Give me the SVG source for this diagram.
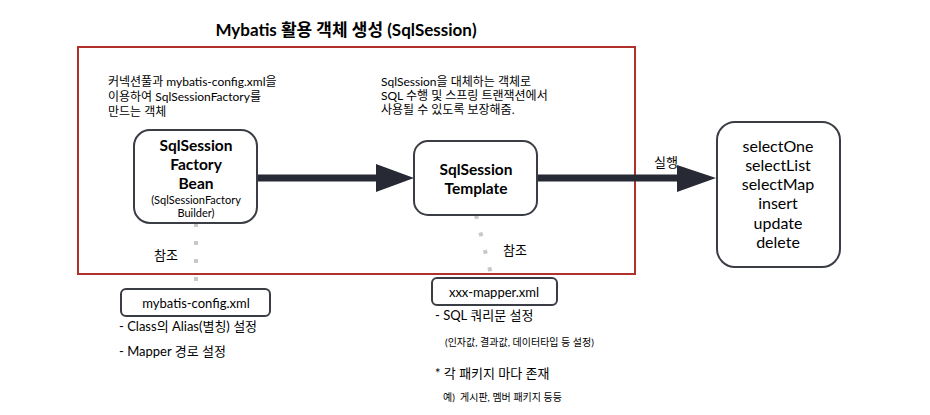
<svg xmlns="http://www.w3.org/2000/svg" width="930" height="415" viewBox="0 0 930 415">
<defs>
<style>
text{font-family:Lato,"Noto Sans CJK KR",sans-serif;fill:#000;}
.title{font-size:17px;font-weight:bold;}
.note{font-size:12px;}
.b{font-size:15.5px;font-weight:bold;text-anchor:middle;}
.sb{font-size:11px;text-anchor:middle;}
.m{font-size:16px;text-anchor:middle;}
.lab{font-size:13px;}
.sm{font-size:10px;}
.box{fill:#fff;stroke:#3b3d45;stroke-width:2;}
.main{stroke:#272a35;stroke-width:7;fill:none;}
.dot{stroke:#c8c8c8;stroke-width:4;stroke-dasharray:4 14;fill:none;}
</style>
</defs>
<rect width="930" height="415" fill="#fff"/>
<text class="title" x="346" y="36" text-anchor="middle">Mybatis 활용 객체 생성 (SqlSession)</text>
<rect x="78" y="47" width="557" height="227" fill="none" stroke="#b0302a" stroke-width="2"/>
<g id="connectors">
<line class="main" x1="257" y1="178" x2="378" y2="178"/>
<polygon points="376,164 414,178 376,192" fill="#272a35"/>
<line class="main" x1="537" y1="178" x2="679" y2="178"/>
<polygon points="677,165 716,178 677,192" fill="#272a35"/>
<text class="lab" x="654" y="167">실행</text>
<line class="dot" x1="196" y1="223" x2="196" y2="290"/>
<text class="lab" x="154" y="260">참조</text>
<line class="dot" x1="476" y1="215" x2="492" y2="278"/>
<text class="lab" x="503" y="255">참조</text>
</g>
<g id="note-factory">
<text class="note" x="108" y="86">커넥션풀과 mybatis-config.xml을</text>
<text class="note" x="108" y="101">이용하여 SqlSessionFactory를</text>
<text class="note" x="108" y="116">만드는 객체</text>
</g>
<g id="note-template">
<text class="note" x="381" y="86">SqlSession을 대체하는 객체로</text>
<text class="note" x="381" y="100">SQL 수행 및 스프링 트랜잭션에서</text>
<text class="note" x="381" y="114">사용될 수 있도록 보장해줌.</text>
</g>
<g id="factory-bean">
<rect class="box" x="134" y="130" width="123" height="93" rx="16"/>
<text class="b" x="196" y="151">SqlSession</text>
<text class="b" x="196" y="170">Factory</text>
<text class="b" x="196" y="189">Bean</text>
<text class="sb" x="196" y="203.5">(SqlSessionFactory</text>
<text class="sb" x="196" y="217">Builder)</text>
</g>
<g id="template">
<rect class="box" x="414" y="141" width="123" height="74" rx="14"/>
<text class="b" x="476" y="175">SqlSession</text>
<text class="b" x="476" y="194">Template</text>
</g>
<g id="methods">
<rect class="box" x="717" y="122" width="123" height="145" rx="18"/>
<text class="m" x="778" y="152">selectOne</text>
<text class="m" x="778" y="171">selectList</text>
<text class="m" x="778" y="190">selectMap</text>
<text class="m" x="778" y="209">insert</text>
<text class="m" x="778" y="229">update</text>
<text class="m" x="778" y="248">delete</text>
</g>
<g id="config">
<rect class="box" x="121" y="289" width="149" height="27" rx="5"/>
<text class="lab" x="196" y="308" text-anchor="middle">mybatis-config.xml</text>
<text class="lab" x="119" y="331">- Class의 Alias(별칭) 설정</text>
<text class="lab" x="119" y="356">- Mapper 경로 설정</text>
</g>
<g id="mapper">
<rect class="box" x="432" y="278" width="125" height="27" rx="5"/>
<text class="lab" x="494" y="297" text-anchor="middle">xxx-mapper.xml</text>
<text class="lab" x="435" y="320">- SQL 쿼리문 설정</text>
<text class="sm" x="445" y="346">(인자값, 결과값, 데이터타입 등 설정)</text>
<text class="lab" x="435" y="378">* 각 패키지 마다 존재</text>
<text class="sm" x="443" y="401">예)&#160;&#160;게시판, 멤버 패키지 등등</text>
</g>
</svg>
